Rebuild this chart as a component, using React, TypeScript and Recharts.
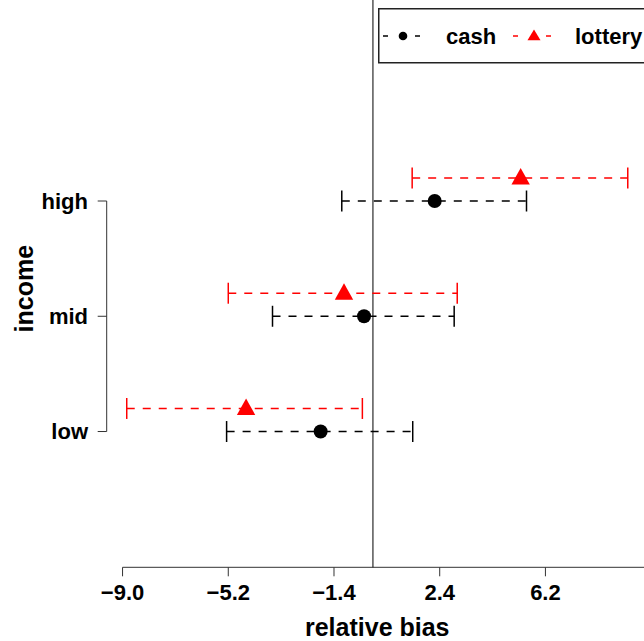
import React from 'react';
import { ScatterChart, Scatter, XAxis, YAxis, ReferenceLine, Legend } from 'recharts';

// categories (y positions 1..3)
const CATEGORIES = ['low', 'mid', 'high'];
const CAT_POS = [1, 2, 3];

// cash series
const CASH_EST = [-1.88, -0.32, 2.22];
const CASH_LO = [-5.26, -3.61, -1.12];
const CASH_HI = [1.43, 2.92, 5.52];

// lottery series
const LOTTERY_EST = [-4.56, -1.04, 5.31];
const LOTTERY_LO = [-8.85, -5.2, 1.41];
const LOTTERY_HI = [-0.38, 3.03, 9.16];

const X_TICKS = [-9.0, -5.2, -1.4, 2.4, 6.2];
const X_DOMAIN: [number, number] = [-9.57, 9.88];
const Y_DOMAIN: [number, number] = [-0.178, 4.744];

const FONT = '"Liberation Sans", Arial, Helvetica, sans-serif';
const CAP = 0.091;
const DASH = '8 8';

const SERIES = [
  { name: 'cash', color: '#000000', shift: 0, est: CASH_EST, lo: CASH_LO, hi: CASH_HI, marker: 'circle' },
  { name: 'lottery', color: '#FF0000', shift: 0.2, est: LOTTERY_EST, lo: LOTTERY_LO, hi: LOTTERY_HI, marker: 'triangle' },
];

const seriesData = SERIES.map((s) =>
  CAT_POS.map((p, i) => ({ x: s.est[i], y: p + s.shift, lo: s.lo[i], hi: s.hi[i] }))
);

const Circle = (props: any) => <circle cx={props.cx} cy={props.cy} r={7} fill="#000" />;
const Triangle = (props: any) => {
  const { cx, cy } = props;
  const pts = `${cx - 9.2},${cy + 6.5} ${cx + 9.2},${cy + 6.5} ${cx},${cy - 10}`;
  return <polygon points={pts} fill="#FF0000" />;
};

const fmt = (v: number) => (v < 0 ? '\u2212' : '') + Math.abs(v).toFixed(1);

const LegendBox = () => (
  <svg width={290} height={56} style={{ display: 'block' }}>
    <rect x={0.75} y={0.75} width={288} height={54} fill="#fff" stroke="#222" strokeWidth={1.5} />
    {/* cash */}
    <line x1={5} x2={10} y1={28} y2={28} stroke="#000" strokeWidth={1.5} />
    <circle cx={25} cy={28} r={4.3} fill="#000" />
    <line x1={37} x2={42} y1={28} y2={28} stroke="#000" strokeWidth={1.5} />
    <text x={68} y={35.5} fontFamily={FONT} fontWeight="bold" fontSize={22} fill="#000">{SERIES[0].name}</text>
    {/* lottery */}
    <line x1={135} x2={140} y1={28} y2={28} stroke="#FF0000" strokeWidth={1.5} />
    <polygon points={`${156 - 6.5},${28 + 4.3} ${156 + 6.5},${28 + 4.3} ${156},${28 - 6.5}`} fill="#FF0000" />
    <line x1={168} x2={173} y1={28} y2={28} stroke="#FF0000" strokeWidth={1.5} />
    <text x={197} y={35.5} fontFamily={FONT} fontWeight="bold" fontSize={22} fill="#000">{SERIES[1].name}</text>
  </svg>
);

const XLabel = (props: any) => {
  const vb = props.viewBox || { x: 106.7, y: 567.3, width: 541, height: 68.7 };
  return (
    <text x={vb.x + vb.width / 2} y={vb.y + vb.height} textAnchor="middle" fontFamily={FONT} fontWeight="bold" fontSize={25} fill="#000">
      relative bias
    </text>
  );
};

const YLabel = (props: any) => {
  const vb = props.viewBox || { x: 0, y: 0, width: 106.7, height: 567.3 };
  const cy = vb.y + vb.height / 2 + 5;
  const bx = 33;
  return (
    <text x={bx} y={cy} transform={`rotate(-90, ${bx}, ${cy})`} textAnchor="middle" fontFamily={FONT} fontWeight="bold" fontSize={25} fill="#000">
      income
    </text>
  );
};

export default function App() {
  const tickStyle = { fill: '#000', fontSize: 22, fontWeight: 'bold' as const, fontFamily: FONT };
  return (
    <div style={{ position: 'fixed', left: 0, top: 0, width: 644, height: 641, overflow: 'hidden', background: '#fff' }}>
      <ScatterChart width={700} height={641} margin={{ top: 0, right: 52.2, bottom: 5, left: 0 }}>
        <XAxis
          type="number"
          dataKey="x"
          domain={X_DOMAIN}
          ticks={X_TICKS}
          tickFormatter={fmt}
          axisLine={false}
          tickLine={{ stroke: '#333', strokeWidth: 1 }}
          tickSize={9}
          tickMargin={7.7}
          tick={tickStyle}
          height={68.7}
          interval={0}
          allowDataOverflow
          label={XLabel}
        />
        <YAxis
          type="number"
          dataKey="y"
          domain={Y_DOMAIN}
          ticks={CAT_POS}
          tickFormatter={(v: number) => CATEGORIES[CAT_POS.indexOf(v)]}
          axisLine={false}
          tickLine={{ stroke: '#333', strokeWidth: 1 }}
          tickSize={9}
          tickMargin={9.7}
          tick={tickStyle}
          width={106.7}
          interval={0}
          allowDataOverflow
          label={YLabel}
        />
        {/* axis lines spanning first to last tick */}
        <ReferenceLine
          segment={[{ x: X_TICKS[0], y: Y_DOMAIN[0] }, { x: X_DOMAIN[1], y: Y_DOMAIN[0] }]}
          stroke="#333"
          strokeWidth={1}
          ifOverflow="visible"
        />
        <ReferenceLine
          segment={[{ x: X_DOMAIN[0], y: CAT_POS[0] }, { x: X_DOMAIN[0], y: CAT_POS[CAT_POS.length - 1] }]}
          stroke="#333"
          strokeWidth={1}
          ifOverflow="visible"
        />
        <ReferenceLine x={0} stroke="#000" strokeWidth={1} ifOverflow="visible" />
        {SERIES.map((s, si) =>
          seriesData[si].map((d, i) => (
            <ReferenceLine
              key={`int-${si}-${i}`}
              segment={[{ x: d.lo, y: d.y }, { x: d.hi, y: d.y }]}
              stroke={s.color}
              strokeWidth={1.5}
              strokeDasharray={DASH}
              ifOverflow="visible"
            />
          ))
        )}
        {SERIES.map((s, si) =>
          seriesData[si].flatMap((d, i) => [
            <ReferenceLine
              key={`capl-${si}-${i}`}
              segment={[{ x: d.lo, y: d.y - CAP }, { x: d.lo, y: d.y + CAP }]}
              stroke={s.color}
              strokeWidth={1.5}
              ifOverflow="visible"
            />,
            <ReferenceLine
              key={`caph-${si}-${i}`}
              segment={[{ x: d.hi, y: d.y - CAP }, { x: d.hi, y: d.y + CAP }]}
              stroke={s.color}
              strokeWidth={1.5}
              ifOverflow="visible"
            />,
          ])
        )}
        <Scatter name={SERIES[0].name} data={seriesData[0]} fill={SERIES[0].color} shape={Circle} isAnimationActive={false} />
        <Scatter name={SERIES[1].name} data={seriesData[1]} fill={SERIES[1].color} shape={Triangle} isAnimationActive={false} />
        <Legend
          layout="horizontal"
          verticalAlign="middle"
          align="center"
          wrapperStyle={{ position: 'absolute', left: 378, top: 7.5, width: 290, height: 56 }}
          content={() => <LegendBox />}
        />
      </ScatterChart>
    </div>
  );
}
